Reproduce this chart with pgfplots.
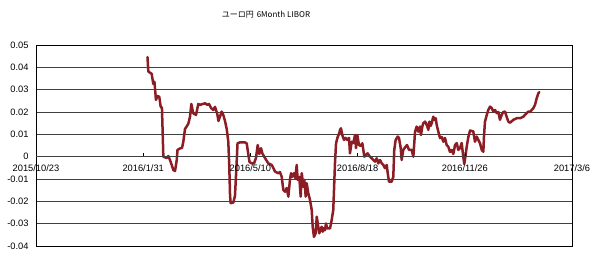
\documentclass[border=0pt]{standalone}
\usepackage{fontspec}
\setmainfont{Liberation Sans}
\newfontfamily\cjk{Noto Sans CJK JP}
\usepackage{pgfplots}
\pgfplotsset{compat=1.18}
\definecolor{liborred}{RGB}{140,29,36}
\begin{document}
\begin{tikzpicture}
\useasboundingbox (-36pt,-7pt) rectangle (556pt,246pt);
\begin{axis}[
  at={(0pt,0pt)}, anchor=south west,
  scale only axis, width=536pt, height=201pt,
  xmin=0, xmax=500, ymin=-0.04, ymax=0.05,
  scaled y ticks=false,
  xtick=\empty,
  ytick={-0.04,-0.03,-0.02,-0.01,0,0.01,0.02,0.03,0.04,0.05},
  yticklabels={-0.04,-0.03,-0.02,-0.01,0,0.01,0.02,0.03,0.04,0.05},
  ytick style={draw=none},
  yticklabel style={font=\fontsize{9.3}{10}\selectfont, xshift=-4pt},
  ymajorgrids, major grid style={black!75, line width=0.7pt},
  axis line style={black, line width=0.8pt},
  clip=false,
]
\addplot[liborred, line width=2.5pt, line join=round, line cap=round] coordinates {
(104.0,0.0446) (104.8,0.0381) (107.9,0.0371) (109.4,0.0326) (110.5,0.0335)
(111.9,0.0254) (113.3,0.0272) (115.0,0.0268) (116.3,0.0224) (117.5,0.0218)
(118.8,0.0000) (121.9,-0.0006) (123.4,0.0003) (125.0,-0.0015) (126.6,-0.0037)
(128.1,-0.0060) (129.7,-0.0064) (131.3,-0.0015) (132.0,0.0030) (134.3,0.0037)
(136.2,0.0039) (137.4,0.0066) (139.0,0.0124) (142.1,0.0147) (143.7,0.0180)
(144.9,0.0236) (146.7,0.0194) (149.3,0.0187) (151.4,0.0236) (153.0,0.0232)
(157.7,0.0239) (159.8,0.0232) (161.4,0.0236) (163.3,0.0218) (165.4,0.0209)
(167.0,0.0223) (169.1,0.0191) (170.2,0.0160) (171.6,0.0179) (173.2,0.0202)
(174.7,0.0187) (176.3,0.0160) (177.9,0.0124) (179.4,0.0066) (180.3,-0.0042)
(181.0,-0.0172) (181.6,-0.0208) (184.1,-0.0205) (185.6,-0.0176) (187.0,-0.0045)
(188.0,0.0060) (190.3,0.0064) (195.0,0.0064) (196.6,0.0059) (198.0,0.0012)
(199.2,-0.0024) (201.2,-0.0030) (203.4,-0.0030) (205.2,-0.0006) (206.8,0.0052)
(208.3,0.0012) (209.9,0.0038) (211.1,0.0015) (213.6,-0.0006) (216.7,-0.0030)
(219.9,-0.0037) (221.4,-0.0051) (223.0,-0.0067) (226.0,-0.0074) (227.6,-0.0069)
(229.2,-0.0090) (230.7,-0.0149) (232.3,-0.0157) (233.9,-0.0140) (235.4,-0.0179)
(236.9,-0.0104) (237.9,-0.0074) (239.1,-0.0090) (240.7,-0.0074) (241.9,-0.0096)
(243.2,-0.0037) (244.1,-0.0104) (245.6,-0.0090) (246.9,-0.0179) (247.9,-0.0074)
(249.4,-0.0135) (250.3,-0.0104) (251.6,-0.0179) (252.5,-0.0119) (254.0,-0.0164)
(255.6,-0.0194) (257.2,-0.0239) (258.1,-0.0314) (259.3,-0.0359) (260.9,-0.0343)
(261.9,-0.0269) (263.3,-0.0314) (264.3,-0.0343) (265.6,-0.0324) (266.5,-0.0314)
(267.5,-0.0336) (268.7,-0.0320) (269.6,-0.0329) (270.5,-0.0299) (271.7,-0.0321)
(274.3,-0.0321) (275.8,-0.0284) (277.3,-0.0239) (278.9,-0.0030) (279.9,0.0060)
(281.4,0.0088) (282.7,0.0102) (283.6,0.0120) (284.5,0.0127) (285.7,0.0097)
(287.3,0.0075) (288.7,0.0084) (290.4,0.0075) (292.0,0.0084) (292.9,0.0015)
(294.5,0.0067) (296.0,0.0061) (297.6,0.0097) (298.5,0.0038) (299.7,0.0097)
(301.3,0.0052) (302.9,0.0048) (304.4,0.0060) (306.3,0.0000) (307.8,0.0008)
(309.4,0.0015) (310.9,0.0003) (313.2,-0.0007) (314.7,-0.0015) (316.2,-0.0022)
(317.8,-0.0007) (319.3,-0.0030) (320.9,-0.0015) (322.5,-0.0030) (324.0,-0.0037)
(325.6,-0.0052) (327.2,-0.0037) (328.1,-0.0074) (329.3,-0.0112) (331.8,-0.0112)
(333.3,-0.0090) (334.2,0.0030) (335.5,0.0075) (337.4,0.0090) (338.6,0.0084)
(340.2,0.0039) (341.1,-0.0015) (342.6,0.0030) (344.2,0.0041) (346.1,0.0052)
(348.0,0.0030) (350.5,0.0030) (352.0,0.0000) (353.6,0.0112) (355.1,0.0135)
(356.6,0.0112) (358.2,0.0135) (359.1,0.0097) (360.4,0.0135) (361.3,0.0150)
(362.9,0.0157) (364.5,0.0142) (366.0,0.0120) (366.9,0.0157) (368.2,0.0138)
(369.1,0.0150) (370.6,0.0179) (371.7,0.0165) (372.9,0.0172) (373.8,0.0142)
(375.3,0.0112) (376.9,0.0083) (378.5,0.0088) (380.0,0.0067) (381.5,0.0084)
(383.1,0.0052) (384.6,0.0045) (386.2,0.0021) (387.8,0.0030) (389.3,0.0012)
(390.9,0.0052) (392.5,0.0061) (393.9,0.0030) (395.5,0.0038) (397.1,0.0061)
(398.6,-0.0001) (399.5,-0.0033) (400.8,0.0008) (401.8,0.0045) (403.3,0.0088)
(404.9,0.0117) (407.9,0.0113) (409.5,0.0067) (411.1,0.0090) (412.6,0.0075)
(414.2,0.0060) (415.8,0.0030) (417.3,0.0022) (417.9,0.0090) (418.8,0.0156)
(420.4,0.0185) (421.9,0.0209) (423.5,0.0224) (425.1,0.0218) (426.6,0.0202)
(428.2,0.0209) (429.8,0.0195) (431.3,0.0200) (432.8,0.0165) (434.4,0.0187)
(435.9,0.0200) (437.5,0.0202) (439.1,0.0178) (440.6,0.0157) (442.2,0.0152)
(445.3,0.0165) (448.4,0.0172) (451.5,0.0172) (454.6,0.0179) (457.8,0.0195)
(459.2,0.0202) (460.8,0.0200) (462.4,0.0209) (463.9,0.0217) (465.5,0.0232)
(467.1,0.0262) (468.6,0.0284) (469.5,0.0289)
};
\node[font=\cjk\fontsize{8}{9}\selectfont] at (rel axis cs:0.429,1.149) {ユーロ円\hspace{3pt}6Month LIBOR};
\end{axis}
\begin{axis}[
  at={(0pt,0pt)}, anchor=south west,
  scale only axis, width=536pt, height=201pt,
  xmin=0, xmax=500, ymin=-0.04, ymax=0.05,
  axis x line=middle, axis y line=none,
  x axis line style={-, black!75, line width=0.7pt},
  xtick={0,100,200,300,400,500},
  xticklabels={2015/10/23,2016/1/31,2016/5/10,2016/8/18,2016/11/26,2017/3/6},
  xticklabel style={font=\fontsize{9.3}{10}\selectfont, yshift=-5pt},
  tick align=inside, major tick length=4pt,
  xtick style={black, line width=0.6pt},
  ytick=\empty,
]
\end{axis}
\end{tikzpicture}
\end{document}
